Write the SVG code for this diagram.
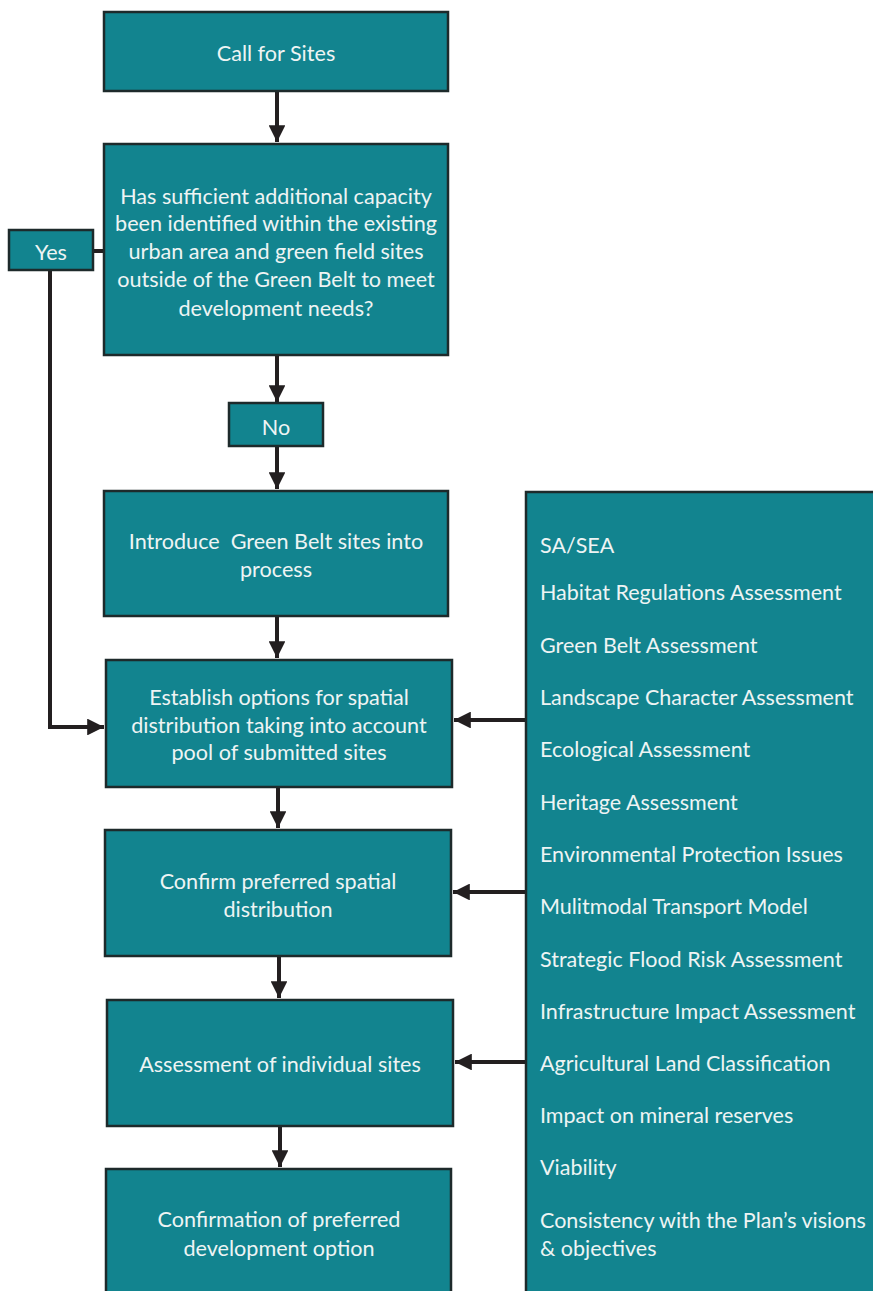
<svg xmlns="http://www.w3.org/2000/svg" width="873" height="1291" viewBox="0 0 873 1291">
<style>
.box{fill:#12848f;stroke:#1d2a2b;stroke-width:2.5}
.t{font-family:Lato,"Liberation Sans",sans-serif;font-size:21.6px;fill:#eef4f4;text-anchor:middle;dominant-baseline:central}
.r{font-family:Lato,"Liberation Sans",sans-serif;font-size:21.5px;fill:#eef4f4;dominant-baseline:central}
.c{fill:none;stroke:#231f20;stroke-width:4}
</style>
<defs>
<marker id="ah" viewBox="0 0 10 10" refX="10" refY="5" markerWidth="4.2" markerHeight="4.2" orient="auto" markerUnits="strokeWidth">
<path d="M0,0 L10,5 L0,10 z" fill="#231f20"/>
</marker>
</defs>
<rect width="873" height="1291" fill="#ffffff"/>
<g id="connectors">
<line class="c" x1="277" y1="92" x2="277" y2="142" marker-end="url(#ah)"/>
<line class="c" x1="277" y1="356" x2="277" y2="402" marker-end="url(#ah)"/>
<line class="c" x1="277" y1="447" x2="277" y2="489" marker-end="url(#ah)"/>
<line class="c" x1="277" y1="617" x2="277" y2="658" marker-end="url(#ah)"/>
<line class="c" x1="278" y1="788" x2="278" y2="828" marker-end="url(#ah)"/>
<line class="c" x1="279" y1="957" x2="279" y2="998" marker-end="url(#ah)"/>
<line class="c" x1="280" y1="1127" x2="280" y2="1167" marker-end="url(#ah)"/>
<line class="c" x1="93" y1="251" x2="104" y2="251"/>
<polyline class="c" points="50,270 50,727 104,727" marker-end="url(#ah)"/>
<line class="c" x1="526" y1="720" x2="454" y2="720" marker-end="url(#ah)"/>
<line class="c" x1="526" y1="892" x2="453" y2="892" marker-end="url(#ah)"/>
<line class="c" x1="526" y1="1062" x2="455" y2="1062" marker-end="url(#ah)"/>
</g>
<g id="call">
<rect class="box" x="104" y="12" width="344" height="79"/>
<text class="t" x="276" y="53">Call for Sites</text>
</g>
<g id="question">
<rect class="box" x="104" y="144" width="344" height="211"/>
<text class="t" x="276" y="196">Has sufficient additional capacity</text>
<text class="t" x="276" y="223">been identified within the existing</text>
<text class="t" x="276" y="251">urban area and green field sites</text>
<text class="t" x="276" y="279">outside of the Green Belt to meet</text>
<text class="t" x="276" y="308">development needs?</text>
</g>
<g id="yes">
<rect class="box" x="9" y="230" width="84" height="40"/>
<text class="t" x="51" y="252">Yes</text>
</g>
<g id="no">
<rect class="box" x="229" y="403" width="94" height="43"/>
<text class="t" x="276" y="427">No</text>
</g>
<g id="introduce">
<rect class="box" x="104" y="491" width="344" height="125"/>
<text class="t" x="276" y="541" xml:space="preserve">Introduce  Green Belt sites into</text>
<text class="t" x="276" y="569">process</text>
</g>
<g id="establish">
<rect class="box" x="106" y="660" width="346" height="127"/>
<text class="t" x="279" y="697">Establish options for spatial</text>
<text class="t" x="279" y="725">distribution taking into account</text>
<text class="t" x="279" y="752">pool of submitted sites</text>
</g>
<g id="confirm">
<rect class="box" x="105" y="830" width="346" height="126"/>
<text class="t" x="278" y="881">Confirm preferred spatial</text>
<text class="t" x="278" y="909">distribution</text>
</g>
<g id="assessment">
<rect class="box" x="107" y="1000" width="346" height="126"/>
<text class="t" x="280" y="1064">Assessment of individual sites</text>
</g>
<g id="confirmation">
<rect class="box" x="106" y="1169" width="345" height="130"/>
<text class="t" x="279" y="1219">Confirmation of preferred</text>
<text class="t" x="279" y="1248">development option</text>
</g>
<g id="factors">
<rect class="box" x="526" y="492" width="352" height="810"/>
<text class="r" x="540" y="545">SA/SEA</text>
<text class="r" x="540" y="592">Habitat Regulations Assessment</text>
<text class="r" x="540" y="645">Green Belt Assessment</text>
<text class="r" x="540" y="697">Landscape Character Assessment</text>
<text class="r" x="540" y="749">Ecological Assessment</text>
<text class="r" x="540" y="802">Heritage Assessment</text>
<text class="r" x="540" y="854">Environmental Protection Issues</text>
<text class="r" x="540" y="906">Mulitmodal Transport Model</text>
<text class="r" x="540" y="959">Strategic Flood Risk Assessment</text>
<text class="r" x="540" y="1011">Infrastructure Impact Assessment</text>
<text class="r" x="540" y="1063">Agricultural Land Classification</text>
<text class="r" x="540" y="1115">Impact on mineral reserves</text>
<text class="r" x="540" y="1167">Viability</text>
<text class="r" x="540" y="1220">Consistency with the Plan’s visions</text>
<text class="r" x="540" y="1248">&amp; objectives</text>
</g>
</svg>
